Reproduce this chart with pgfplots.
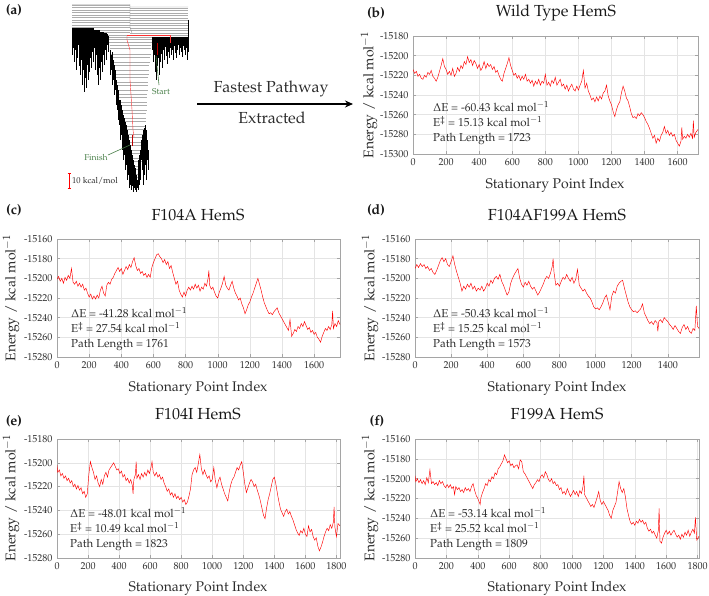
\documentclass[border=0pt]{standalone}
\usepackage[T1]{fontenc}
\usepackage{mathpazo}
\usepackage{pgfplots}
\pgfplotsset{compat=1.18}
\usetikzlibrary{arrows.meta}
\definecolor{framegray}{RGB}{165,165,165}
\definecolor{gridgray}{RGB}{228,228,228}
\definecolor{txt}{RGB}{45,45,45}
\definecolor{dgreen}{RGB}{70,125,70}
\pgfplotsset{
  panel/.style={
    scale only axis, anchor=north west, clip=true,
    axis line style={draw=framegray, line width=0.5pt},
    grid=major, major grid style={draw=gridgray, line width=0.4pt},
    tick align=inside, major tick length=3pt,
    tick style={draw=framegray, line width=0.4pt},
    xtick={0,200,...,1800},
    ytick distance=20,
    scaled y ticks=false, scaled x ticks=false,
    tick label style={font=\fontsize{10}{12}\selectfont, text=txt},
    xticklabel style={yshift=-1.5pt},
    yticklabel style={xshift=-1pt},
    /pgf/number format/1000 sep={},
    /pgf/number format/assume math mode=true,
    xmin=0,
  },
  sig/.style={draw=red, line width=0.45pt},
}
\begin{document}
\begin{tikzpicture}[x=1pt,y=1pt]
\path[use as bounding box] (0,0) rectangle (709,-596);

% ---------------- panel (a): disconnectivity graph ----------------
\begin{axis}[at={(60pt,0pt)}, anchor=north west, scale only axis, width=140pt, height=196pt,
  xmin=60, xmax=200, ymin=0, ymax=196, y dir=reverse, hide axis, clip=false, unbounded coords=jump]
% top basin lines
\addplot[gray!65, line width=0.3pt] coordinates {
(72,5)(130,5)(130,nan)(72,7.5)(130,7.5)(130,nan)(72,10)(130,10)(130,nan)(72,12.5)(130,12.5)(130,nan)
(72,15)(130,15)(130,nan)(72,17.5)(130,17.5)(130,nan)(72,20)(130,20)(130,nan)(72,22.5)(130,22.5)(130,nan)
(72,25)(130,25)(130,nan)(72,27.5)(130,27.5)(130,nan)(72,30)(130,30)(130,nan)(100,32.5)(130,32.5)(130,nan)
(130,8)(188,8)(188,nan)(130,10.5)(188,10.5)(188,nan)(130,13)(188,13)(188,nan)(130,15.5)(188,15.5)(188,nan)
(130,18)(188,18)(188,nan)(130,20.5)(188,20.5)(188,nan)(130,23)(188,23)(188,nan)(130,25.5)(188,25.5)(188,nan)
(130,28)(188,28)(188,nan)(130,30.5)(188,30.5)(188,nan)(130,33)(188,33)(188,nan)(107,35)(188,35)(188,nan)
(107,37)(160,37)};
\addplot[gray!85, line width=0.45pt] coordinates {(72,4.5)(130,4.5)(130,27)(132,33)(132,nan)(130,7)(188,7)};
% funnel lines
\addplot[gray!65, line width=0.3pt] coordinates {
(108,39)(152,39)(152,nan)(108.7,42)(151.6,42)(151.6,nan)(109.5,45)(151.3,45)(151.3,nan)(110.2,48)(150.9,48)(150.9,nan)
(110.9,54)(150.5,54)(150.5,nan)(111.6,57)(150.2,57)(150.2,nan)(112.3,62)(149.8,62)(149.8,nan)(112.9,65)(149.4,65)(149.4,nan)
(113.5,70)(149,70)(149,nan)(114.1,74)(148.6,74)(148.6,nan)(114.7,77)(148.2,77)(148.2,nan)(115.3,82)(147.9,82)(147.9,nan)
(115.9,85)(147.7,85)(147.7,nan)(116.5,90)(147.5,90)(147.5,nan)(117.1,94)(147.3,94)(147.3,nan)(117.7,97)(147.1,97)(147.1,nan)
(118.5,102)(146.9,102)(146.9,nan)(119.5,105)(146.7,105)(146.7,nan)(120.5,110)(146.5,110)(146.5,nan)(121.5,113)(146.3,113)(146.3,nan)
(122.5,118)(146.1,118)(146.1,nan)(123.5,121)(145.8,121)(145.8,nan)(124.6,126)(145.4,126)(145.4,nan)(125.7,129)(145,129)(145,nan)
(126.7,134)(144.6,134)(144.6,nan)(127.6,137)(144.2,137)(144.2,nan)(128.4,142)(143.8,142)(143.8,nan)(129.2,145)(143.4,145)(143.4,nan)
(130,150)(143,150)(143,nan)(130.8,153)(142.6,153)(142.6,nan)(131.6,158)(142.2,158)(142.2,nan)(132.4,161)(141.8,161)(141.8,nan)
(133.1,166)(141.4,166)(141.4,nan)(133.7,169)(141,169)(141,nan)(134.2,174)(140.6,174)(140.6,nan)(134.7,177)(140.2,177)(140.2,nan)
(135.5,182)(139.8,182)(139.8,nan)(136.5,186)(139.4,186)};
% left fringe
\addplot[black, line width=0.4pt] coordinates {
(72,28)(72,55)(72,nan)(73,28)(73,48)(73,nan)(74,28)(74,62)(74,nan)(75,28)(75,50)(75,nan)(76,28)(76,70)(76,nan)
(77,28)(77,58)(77,nan)(78,28)(78,45)(78,nan)(79,28)(79,66)(79,nan)(80,28)(80,75)(80,nan)(81,28)(81,60)(81,nan)
(82,28)(82,85)(82,nan)(83,28)(83,70)(83,nan)(84,28)(84,92)(84,nan)(85,28)(85,78)(85,nan)(86,28)(86,88)(86,nan)
(87,28)(87,65)(87,nan)(88,28)(88,80)(88,nan)(89,28)(89,72)(89,nan)(90,28)(90,58)(90,nan)(91,28)(91,68)(91,nan)
(92,28)(92,52)(92,nan)(93,28)(93,62)(93,nan)(94,30)(94,48)(94,nan)(95,30)(95,70)(95,nan)(96,30)(96,55)(96,nan)
(97,30)(97,75)(97,nan)(98,30)(98,85)(98,nan)(99,30)(99,68)(99,nan)(100,32)(100,80)(100,nan)(101,32)(101,62)(101,nan)
(102,32)(102,72)(102,nan)(103,32)(103,55)(103,nan)(104,33)(104,65)(104,nan)(105,33)(105,50)(105,nan)(106,33)(106,60)(106,nan)
(107,34)(107,45)(107,nan)(108,36)(108,52)};
% right fringe
\addplot[black, line width=0.4pt] coordinates {
(152,37)(152,50)(152,nan)(153,37)(153,62)(153,nan)(154,37)(154,55)(154,nan)(155,37)(155,72)(155,nan)(156,37)(156,80)(156,nan)
(157,37)(157,66)(157,nan)(158,37)(158,58)(158,nan)(159,37)(159,75)(159,nan)(160,37)(160,62)(160,nan)(161,37)(161,54)(161,nan)
(162,37)(162,68)(162,nan)(163,37)(163,50)(163,nan)(164,37)(164,60)(164,nan)(165,37)(165,47)(165,nan)(166,37)(166,56)(166,nan)
(167,37)(167,64)(167,nan)(168,37)(168,52)(168,nan)(169,37)(169,58)(169,nan)(170,37)(170,48)(170,nan)(171,37)(171,55)(171,nan)
(172,37)(172,50)(172,nan)(173,37)(173,60)(173,nan)(174,37)(174,46)(174,nan)(175,37)(175,53)(175,nan)(176,37)(176,58)(176,nan)
(177,37)(177,50)(177,nan)(178,37)(178,45)(178,nan)(179,37)(179,55)(179,nan)(180,37)(180,48)(180,nan)(181,37)(181,52)(181,nan)
(182,37)(182,57)(182,nan)(183,37)(183,46)(183,nan)(184,37)(184,50)(184,nan)(185,37)(185,55)(185,nan)(186,37)(186,48)(186,nan)
(187,37)(187,60)(187,nan)(188,20)(188,52)};
% funnel fringe
\addplot[black, line width=0.4pt] coordinates {
(110,50)(110,75)(110,nan)(111,55)(111,70)(111,nan)(112,52)(112,85)(112,nan)(113,60)(113,80)(113,nan)(114,65)(114,95)(114,nan)
(115,70)(115,90)(115,nan)(116,80)(116,105)(116,nan)(117,85)(117,110)(117,nan)(118,90)(118,120)(118,nan)(119,100)(119,125)(119,nan)
(120,100)(120,140)(120,nan)(121,105)(121,135)(121,nan)(122,110)(122,150)(122,nan)(123,115)(123,160)(123,nan)(124,118)(124,155)(124,nan)
(125,122)(125,170)(125,nan)(126,125)(126,165)(126,nan)(127,130)(127,180)(127,nan)(128,135)(128,175)(128,nan)(129,140)(129,188)(129,nan)
(130,145)(130,185)(130,nan)(131,150)(131,190)(131,nan)(132,155)(132,186)(132,nan)(133,160)(133,192)(133,nan)(134,165)(134,188)(134,nan)
(135,168)(135,190)(135,nan)(136,175)(136,192)(136,nan)(137,180)(137,188)(137,nan)(138,160)(138,190)(138,nan)(139,155)(139,185)(139,nan)
(140,150)(140,180)(140,nan)(141,140)(141,160)(141,nan)(142,135)(142,170)(142,nan)(143,130)(143,185)(143,nan)(144,128)(144,175)(144,nan)
(145,125)(145,165)(145,nan)(146,130)(146,180)(146,nan)(147,140)(147,160)(147,nan)(148,150)(148,170)};
% fastest pathway (red)
\addplot[red!80!white, line width=0.4pt] coordinates {(127,36)(127,40)(130,50)(130,80)(132,110)(133,130)(134,137)};
\addplot[red!80!white, line width=0.4pt] coordinates {(127,35.5)(170,35.5)(170,43)};
\addplot[red!75!black, line width=0.9pt] coordinates {(157,43)(157,55)};
\addplot[red!75!black, line width=0.9pt] coordinates {(132,135)(132,146)};
% start / finish pointers
\addplot[dgreen, line width=0.6pt] coordinates {(159,85)(156,56)};
\addplot[dgreen, line width=0.6pt] coordinates {(108,155)(130,145)};
% scale bar
\addplot[red, line width=0.7pt] coordinates {(69,173)(69,188)};
\addplot[red, line width=0.7pt] coordinates {(67.5,173)(70.5,173)};
\addplot[red, line width=0.7pt] coordinates {(67.5,188)(70.5,188)};
\node[font=\fontsize{8.5}{10}\selectfont, text=dgreen] at (axis cs:161,92) {Start};
\node[font=\fontsize{8.5}{10}\selectfont, text=dgreen] at (axis cs:96,158) {Finish};
\node[font=\fontsize{8.5}{10}\selectfont, text=txt, anchor=west, inner sep=0pt] at (axis cs:72,181) {10 kcal/mol};
\end{axis}

\draw[line width=1.2pt, -{Stealth[length=8pt,width=7pt]}] (197,-104) -- (353,-104);
\node[font=\fontsize{16}{18}\selectfont, text=txt] at (271,-89) {Fastest Pathway};
\node[font=\fontsize{16}{18}\selectfont, text=txt] at (272,-118) {Extracted};

% ---------------- panel (b) ----------------
\begin{axis}[panel, at={(413pt,-36pt)}, width=285pt, height=118pt, xmax=1723, ymin=-15300, ymax=-15180]
\addplot[sig] coordinates {(0,-15214)(10,-15218)(20,-15216)(30,-15221)(40,-15219)(50,-15223)(60,-15224)(70,-15220)(80,-15222)(90,-15217)(100,-15219)(110,-15215)(120,-15221)(130,-15223)(140,-15226)(150,-15222)(160,-15216)(170,-15210)(180,-15203)(190,-15211)(200,-15214)(210,-15219)(220,-15216)(230,-15220)(240,-15213)(250,-15221)(260,-15218)(270,-15212)(280,-15216)(290,-15210)(300,-15213)(310,-15206)(320,-15209)(330,-15201)(340,-15207)(350,-15204)(360,-15210)(370,-15205)(380,-15208)(390,-15213)(400,-15209)(410,-15215)(420,-15212)(430,-15206)(440,-15213)(450,-15208)(460,-15211)(470,-15209)(480,-15214)(490,-15211)(500,-15217)(510,-15215)(520,-15220)(530,-15224)(540,-15226)(550,-15218)(560,-15213)(570,-15208)(580,-15202)(590,-15210)(600,-15215)(610,-15220)(620,-15218)(630,-15223)(640,-15220)(650,-15225)(660,-15221)(670,-15224)(680,-15219)(690,-15226)(700,-15224)(710,-15228)(720,-15225)(730,-15231)(740,-15226)(750,-15229)(760,-15224)(770,-15230)(780,-15226)(790,-15228)(800,-15219)(810,-15230)(820,-15227)(830,-15231)(840,-15225)(850,-15228)(860,-15222)(870,-15230)(880,-15227)(890,-15224)(900,-15231)(910,-15229)(920,-15234)(930,-15230)(940,-15236)(950,-15232)(960,-15229)(970,-15234)(980,-15236)(990,-15231)(1000,-15235)(1010,-15230)(1020,-15226)(1030,-15215)(1040,-15233)(1050,-15228)(1060,-15236)(1070,-15240)(1080,-15245)(1090,-15243)(1100,-15247)(1110,-15242)(1120,-15246)(1130,-15241)(1140,-15244)(1150,-15238)(1160,-15236)(1170,-15230)(1180,-15241)(1190,-15246)(1200,-15250)(1210,-15257)(1220,-15262)(1230,-15255)(1240,-15250)(1250,-15247)(1260,-15238)(1270,-15231)(1280,-15236)(1290,-15243)(1300,-15246)(1310,-15252)(1320,-15259)(1330,-15263)(1340,-15262)(1350,-15264)(1360,-15259)(1370,-15261)(1380,-15258)(1390,-15260)(1400,-15263)(1410,-15267)(1420,-15270)(1430,-15274)(1440,-15279)(1450,-15284)(1460,-15281)(1470,-15289)(1480,-15284)(1490,-15287)(1500,-15281)(1510,-15278)(1520,-15272)(1530,-15279)(1540,-15276)(1550,-15281)(1560,-15278)(1570,-15282)(1580,-15280)(1590,-15286)(1600,-15289)(1610,-15292)(1620,-15287)(1625,-15273)(1630,-15285)(1640,-15282)(1650,-15284)(1660,-15280)(1670,-15283)(1680,-15279)(1690,-15284)(1695,-15266)(1700,-15283)(1710,-15278)(1723,-15275)};
\end{axis}

% ---------------- panel (c) ----------------
\begin{axis}[panel, at={(57pt,-239pt)}, width=283pt, height=118pt, xmax=1761, ymin=-15280, ymax=-15160]
\addplot[sig] coordinates {(0,-15201)(10,-15198)(20,-15203)(30,-15200)(40,-15205)(50,-15199)(60,-15202)(70,-15197)(80,-15200)(90,-15190)(100,-15204)(110,-15206)(120,-15203)(130,-15208)(140,-15205)(150,-15209)(160,-15206)(170,-15212)(180,-15210)(190,-15215)(200,-15219)(210,-15216)(220,-15221)(230,-15218)(240,-15221)(250,-15217)(260,-15220)(270,-15212)(280,-15208)(290,-15215)(300,-15218)(310,-15207)(320,-15204)(330,-15206)(340,-15201)(350,-15199)(360,-15195)(370,-15192)(380,-15189)(390,-15193)(400,-15190)(410,-15196)(420,-15192)(430,-15188)(440,-15191)(450,-15186)(460,-15189)(470,-15183)(480,-15179)(490,-15187)(500,-15192)(510,-15190)(520,-15195)(530,-15193)(540,-15197)(550,-15195)(560,-15199)(570,-15196)(580,-15199)(590,-15189)(600,-15184)(610,-15180)(620,-15176)(630,-15175)(640,-15178)(650,-15180)(660,-15184)(670,-15181)(680,-15186)(690,-15183)(700,-15190)(710,-15187)(720,-15194)(730,-15200)(740,-15206)(750,-15203)(760,-15212)(770,-15216)(780,-15219)(790,-15214)(800,-15218)(810,-15212)(820,-15209)(830,-15212)(840,-15208)(850,-15211)(860,-15206)(870,-15210)(880,-15207)(890,-15213)(900,-15209)(910,-15211)(920,-15205)(930,-15208)(940,-15200)(945,-15192)(950,-15207)(960,-15211)(970,-15209)(980,-15214)(990,-15218)(1000,-15220)(1010,-15214)(1020,-15210)(1030,-15205)(1040,-15198)(1050,-15207)(1060,-15210)(1070,-15212)(1080,-15207)(1090,-15203)(1100,-15210)(1110,-15215)(1120,-15218)(1130,-15222)(1140,-15220)(1150,-15226)(1160,-15230)(1170,-15236)(1180,-15232)(1190,-15227)(1200,-15224)(1210,-15219)(1220,-15215)(1230,-15210)(1240,-15205)(1250,-15200)(1260,-15206)(1270,-15212)(1280,-15219)(1290,-15225)(1300,-15229)(1310,-15233)(1320,-15236)(1330,-15235)(1340,-15237)(1350,-15234)(1360,-15232)(1370,-15230)(1380,-15235)(1390,-15238)(1400,-15241)(1410,-15244)(1420,-15247)(1430,-15250)(1440,-15253)(1450,-15242)(1460,-15259)(1470,-15256)(1480,-15252)(1490,-15254)(1500,-15249)(1510,-15251)(1520,-15246)(1530,-15249)(1540,-15244)(1550,-15248)(1560,-15252)(1570,-15250)(1580,-15255)(1590,-15253)(1600,-15257)(1610,-15255)(1620,-15260)(1630,-15262)(1640,-15265)(1650,-15259)(1660,-15255)(1670,-15251)(1680,-15253)(1690,-15249)(1700,-15252)(1710,-15247)(1715,-15233)(1720,-15251)(1730,-15246)(1740,-15249)(1750,-15243)(1761,-15247)};
\end{axis}

% ---------------- panel (d) ----------------
\begin{axis}[panel, at={(415pt,-239pt)}, width=284pt, height=118pt, xmax=1573, ymin=-15280, ymax=-15160]
\addplot[sig] coordinates {(0,-15190)(10,-15186)(20,-15189)(30,-15185)(40,-15188)(50,-15186)(60,-15190)(70,-15188)(80,-15192)(90,-15190)(100,-15194)(110,-15196)(120,-15192)(130,-15187)(140,-15182)(150,-15179)(160,-15183)(170,-15180)(180,-15186)(190,-15188)(200,-15183)(210,-15177)(220,-15186)(230,-15193)(240,-15199)(250,-15205)(260,-15213)(270,-15208)(280,-15211)(290,-15206)(300,-15209)(310,-15205)(320,-15211)(330,-15208)(340,-15213)(350,-15210)(360,-15212)(370,-15208)(380,-15213)(390,-15210)(400,-15205)(410,-15208)(420,-15202)(430,-15205)(440,-15200)(450,-15198)(460,-15201)(470,-15196)(480,-15203)(490,-15207)(500,-15212)(510,-15217)(520,-15214)(530,-15205)(540,-15200)(550,-15196)(560,-15193)(570,-15190)(580,-15200)(590,-15206)(600,-15209)(610,-15204)(620,-15207)(630,-15203)(640,-15208)(650,-15211)(660,-15209)(670,-15213)(680,-15217)(690,-15214)(700,-15210)(710,-15206)(720,-15201)(730,-15198)(740,-15200)(750,-15195)(760,-15188)(765,-15180)(770,-15194)(780,-15207)(790,-15205)(800,-15208)(810,-15203)(820,-15199)(830,-15201)(840,-15196)(850,-15200)(860,-15203)(870,-15199)(880,-15205)(890,-15201)(900,-15191)(910,-15207)(920,-15210)(930,-15213)(940,-15211)(950,-15215)(960,-15218)(970,-15220)(980,-15224)(990,-15229)(1000,-15231)(1010,-15230)(1020,-15232)(1030,-15229)(1040,-15225)(1050,-15220)(1060,-15217)(1070,-15224)(1080,-15232)(1090,-15218)(1100,-15213)(1110,-15215)(1120,-15208)(1130,-15205)(1140,-15203)(1150,-15202)(1160,-15210)(1170,-15217)(1180,-15224)(1190,-15229)(1200,-15232)(1210,-15234)(1220,-15233)(1230,-15235)(1240,-15233)(1250,-15231)(1260,-15226)(1270,-15235)(1280,-15239)(1290,-15243)(1300,-15246)(1310,-15244)(1320,-15247)(1330,-15243)(1340,-15245)(1345,-15254)(1350,-15244)(1360,-15242)(1370,-15245)(1380,-15240)(1390,-15242)(1400,-15244)(1410,-15247)(1420,-15249)(1430,-15252)(1440,-15248)(1450,-15251)(1460,-15254)(1470,-15256)(1480,-15250)(1490,-15247)(1500,-15252)(1510,-15249)(1520,-15254)(1530,-15256)(1540,-15251)(1550,-15253)(1558,-15228)(1565,-15249)(1573,-15251)};
\end{axis}

% ---------------- panel (e) ----------------
\begin{axis}[panel, at={(57pt,-439pt)}, width=283pt, height=119pt, xmax=1823, ymin=-15280, ymax=-15180]
\addplot[sig] coordinates {(0,-15202)(5,-15208)(15,-15206)(25,-15211)(35,-15209)(45,-15213)(55,-15211)(65,-15215)(75,-15213)(85,-15217)(95,-15215)(105,-15220)(115,-15218)(125,-15222)(135,-15219)(145,-15223)(155,-15221)(165,-15226)(175,-15224)(185,-15229)(195,-15226)(205,-15210)(215,-15199)(225,-15204)(235,-15208)(245,-15214)(255,-15211)(265,-15217)(275,-15220)(285,-15214)(295,-15218)(305,-15211)(315,-15208)(325,-15212)(335,-15206)(345,-15204)(355,-15202)(365,-15200)(375,-15203)(385,-15206)(395,-15205)(405,-15209)(415,-15207)(425,-15212)(435,-15210)(445,-15215)(455,-15213)(465,-15217)(475,-15214)(485,-15219)(490,-15226)(495,-15214)(505,-15210)(510,-15199)(515,-15213)(525,-15210)(535,-15214)(545,-15209)(555,-15212)(565,-15208)(575,-15211)(585,-15206)(595,-15209)(605,-15204)(612,-15199)(620,-15208)(630,-15211)(640,-15208)(650,-15212)(660,-15210)(670,-15214)(680,-15212)(690,-15217)(700,-15220)(710,-15224)(720,-15222)(730,-15227)(740,-15225)(750,-15229)(760,-15226)(770,-15230)(780,-15228)(790,-15231)(800,-15229)(810,-15233)(820,-15231)(830,-15235)(840,-15233)(850,-15228)(860,-15222)(870,-15210)(880,-15206)(890,-15204)(900,-15208)(910,-15201)(920,-15193)(930,-15205)(940,-15210)(950,-15206)(960,-15210)(970,-15213)(980,-15211)(990,-15216)(1000,-15214)(1010,-15204)(1020,-15215)(1030,-15221)(1040,-15215)(1050,-15212)(1060,-15218)(1070,-15222)(1080,-15226)(1090,-15229)(1100,-15232)(1110,-15224)(1120,-15218)(1130,-15214)(1140,-15212)(1150,-15208)(1160,-15204)(1170,-15206)(1180,-15202)(1190,-15199)(1200,-15208)(1210,-15218)(1220,-15225)(1230,-15221)(1240,-15217)(1250,-15214)(1260,-15216)(1270,-15220)(1280,-15218)(1290,-15223)(1300,-15227)(1310,-15232)(1320,-15238)(1330,-15244)(1340,-15247)(1350,-15238)(1360,-15231)(1370,-15226)(1380,-15220)(1390,-15214)(1400,-15212)(1410,-15218)(1420,-15226)(1430,-15233)(1440,-15239)(1450,-15242)(1460,-15245)(1470,-15241)(1480,-15239)(1490,-15243)(1500,-15241)(1510,-15245)(1520,-15248)(1530,-15252)(1540,-15256)(1550,-15259)(1560,-15261)(1570,-15257)(1580,-15259)(1590,-15255)(1600,-15260)(1610,-15262)(1620,-15253)(1630,-15258)(1640,-15256)(1650,-15262)(1660,-15265)(1670,-15263)(1680,-15270)(1690,-15274)(1700,-15271)(1710,-15267)(1720,-15262)(1730,-15258)(1740,-15255)(1750,-15257)(1760,-15252)(1770,-15255)(1780,-15250)(1785,-15237)(1790,-15254)(1800,-15262)(1810,-15251)(1823,-15253)};
\end{axis}

% ---------------- panel (f) ----------------
\begin{axis}[panel, at={(415pt,-439pt)}, width=284pt, height=119pt, xmax=1809, ymin=-15280, ymax=-15160]
\addplot[sig] coordinates {(0,-15197)(5,-15203)(15,-15200)(25,-15204)(35,-15201)(45,-15205)(55,-15202)(65,-15206)(75,-15199)(85,-15204)(95,-15191)(105,-15205)(115,-15203)(125,-15206)(135,-15204)(145,-15207)(155,-15202)(165,-15205)(175,-15203)(185,-15207)(195,-15209)(205,-15206)(215,-15209)(225,-15206)(235,-15210)(245,-15208)(252,-15216)(260,-15208)(270,-15211)(280,-15209)(290,-15213)(300,-15211)(310,-15214)(320,-15209)(330,-15212)(340,-15210)(350,-15213)(360,-15208)(370,-15205)(380,-15212)(390,-15217)(400,-15220)(410,-15224)(415,-15226)(420,-15219)(430,-15214)(440,-15210)(450,-15205)(460,-15207)(470,-15201)(480,-15203)(490,-15198)(500,-15200)(510,-15194)(520,-15196)(530,-15190)(540,-15188)(550,-15185)(560,-15182)(570,-15176)(580,-15180)(590,-15184)(600,-15182)(610,-15187)(620,-15185)(630,-15189)(640,-15187)(650,-15186)(660,-15190)(670,-15181)(680,-15183)(690,-15193)(700,-15195)(710,-15198)(720,-15201)(730,-15204)(740,-15207)(750,-15210)(760,-15206)(770,-15204)(780,-15201)(790,-15203)(800,-15198)(810,-15196)(820,-15199)(830,-15193)(840,-15196)(850,-15201)(860,-15203)(870,-15200)(880,-15205)(890,-15203)(900,-15207)(910,-15206)(920,-15211)(930,-15209)(940,-15215)(950,-15213)(960,-15216)(970,-15210)(980,-15214)(990,-15218)(1000,-15215)(1010,-15212)(1020,-15216)(1030,-15213)(1040,-15218)(1050,-15212)(1060,-15215)(1070,-15208)(1076,-15197)(1080,-15216)(1090,-15219)(1100,-15222)(1110,-15225)(1120,-15228)(1130,-15226)(1140,-15229)(1150,-15224)(1160,-15219)(1170,-15213)(1180,-15222)(1190,-15226)(1200,-15223)(1210,-15226)(1220,-15229)(1230,-15232)(1240,-15237)(1250,-15240)(1260,-15232)(1270,-15228)(1280,-15224)(1290,-15214)(1300,-15203)(1310,-15210)(1320,-15214)(1330,-15210)(1340,-15218)(1350,-15230)(1360,-15237)(1370,-15243)(1380,-15246)(1390,-15244)(1400,-15247)(1410,-15243)(1420,-15245)(1430,-15241)(1440,-15244)(1450,-15242)(1460,-15246)(1470,-15244)(1480,-15250)(1490,-15253)(1500,-15251)(1510,-15255)(1520,-15253)(1530,-15257)(1540,-15260)(1550,-15252)(1555,-15230)(1560,-15263)(1570,-15265)(1580,-15259)(1590,-15255)(1600,-15252)(1610,-15256)(1620,-15253)(1630,-15257)(1640,-15254)(1650,-15252)(1660,-15256)(1670,-15259)(1680,-15257)(1690,-15261)(1700,-15256)(1710,-15259)(1720,-15254)(1730,-15257)(1740,-15252)(1750,-15258)(1760,-15254)(1770,-15251)(1780,-15255)(1786,-15239)(1795,-15262)(1809,-15258)};
\end{axis}

% ---------------- texts ----------------
\tikzset{ttl/.style={font=\fontsize{16}{18}\selectfont, text=black!90},
  lett/.style={font=\fontsize{14}{16}\selectfont\bfseries, text=black!90},
  ylab/.style={font=\fontsize{14}{16}\selectfont, text=txt, rotate=90, inner sep=1pt},
  xlab/.style={font=\fontsize{14}{16}\selectfont, text=txt},
  ann/.style={font=\fontsize{11.5}{14.8}\selectfont, text=txt, anchor=north west, inner sep=0pt, align=left}}

\node[lett] at (14,-10) {(a)};
\node[lett] at (376,-13) {(b)};
\node[lett] at (14,-210) {(c)};
\node[lett] at (376,-210) {(d)};
\node[lett] at (14,-421) {(e)};
\node[lett] at (377,-421) {(f)};

\node[ttl] at (556,-13) {Wild Type HemS};
\node[ttl] at (198,-215) {F104A HemS};
\node[ttl] at (557,-215) {F104AF199A HemS};
\node[ttl] at (198,-414) {F104I HemS};
\node[ttl] at (557,-414) {F199A HemS};

\node[ylab] at (369,-95) {Energy / kcal mol$^{-1}$};
\node[ylab] at (11,-298) {Energy / kcal mol$^{-1}$};
\node[ylab] at (370,-298) {Energy / kcal mol$^{-1}$};
\node[ylab] at (11,-498) {Energy / kcal mol$^{-1}$};
\node[ylab] at (370,-498) {Energy / kcal mol$^{-1}$};

\node[xlab] at (555,-185) {Stationary Point Index};
\node[xlab] at (198,-388) {Stationary Point Index};
\node[xlab] at (557,-388) {Stationary Point Index};
\node[xlab] at (198,-588) {Stationary Point Index};
\node[xlab] at (557,-588) {Stationary Point Index};

\node[ann] at (433,-101) {$\Delta$E = -60.43 kcal mol$^{-1}$\\E$^{\ddagger}$ = 15.13 kcal mol$^{-1}$\\Path Length = 1723};
\node[ann] at (71,-307) {$\Delta$E = -41.28 kcal mol$^{-1}$\\E$^{\ddagger}$ = 27.54 kcal mol$^{-1}$\\Path Length = 1761};
\node[ann] at (433,-307) {$\Delta$E = -50.43 kcal mol$^{-1}$\\E$^{\ddagger}$ = 15.25 kcal mol$^{-1}$\\Path Length = 1573};
\node[ann] at (70,-507) {$\Delta$E = -48.01 kcal mol$^{-1}$\\E$^{\ddagger}$ = 10.49 kcal mol$^{-1}$\\Path Length = 1823};
\node[ann] at (430,-507) {$\Delta$E = -53.14 kcal mol$^{-1}$\\E$^{\ddagger}$ = 25.52 kcal mol$^{-1}$\\Path Length = 1809};
\end{tikzpicture}
\end{document}
